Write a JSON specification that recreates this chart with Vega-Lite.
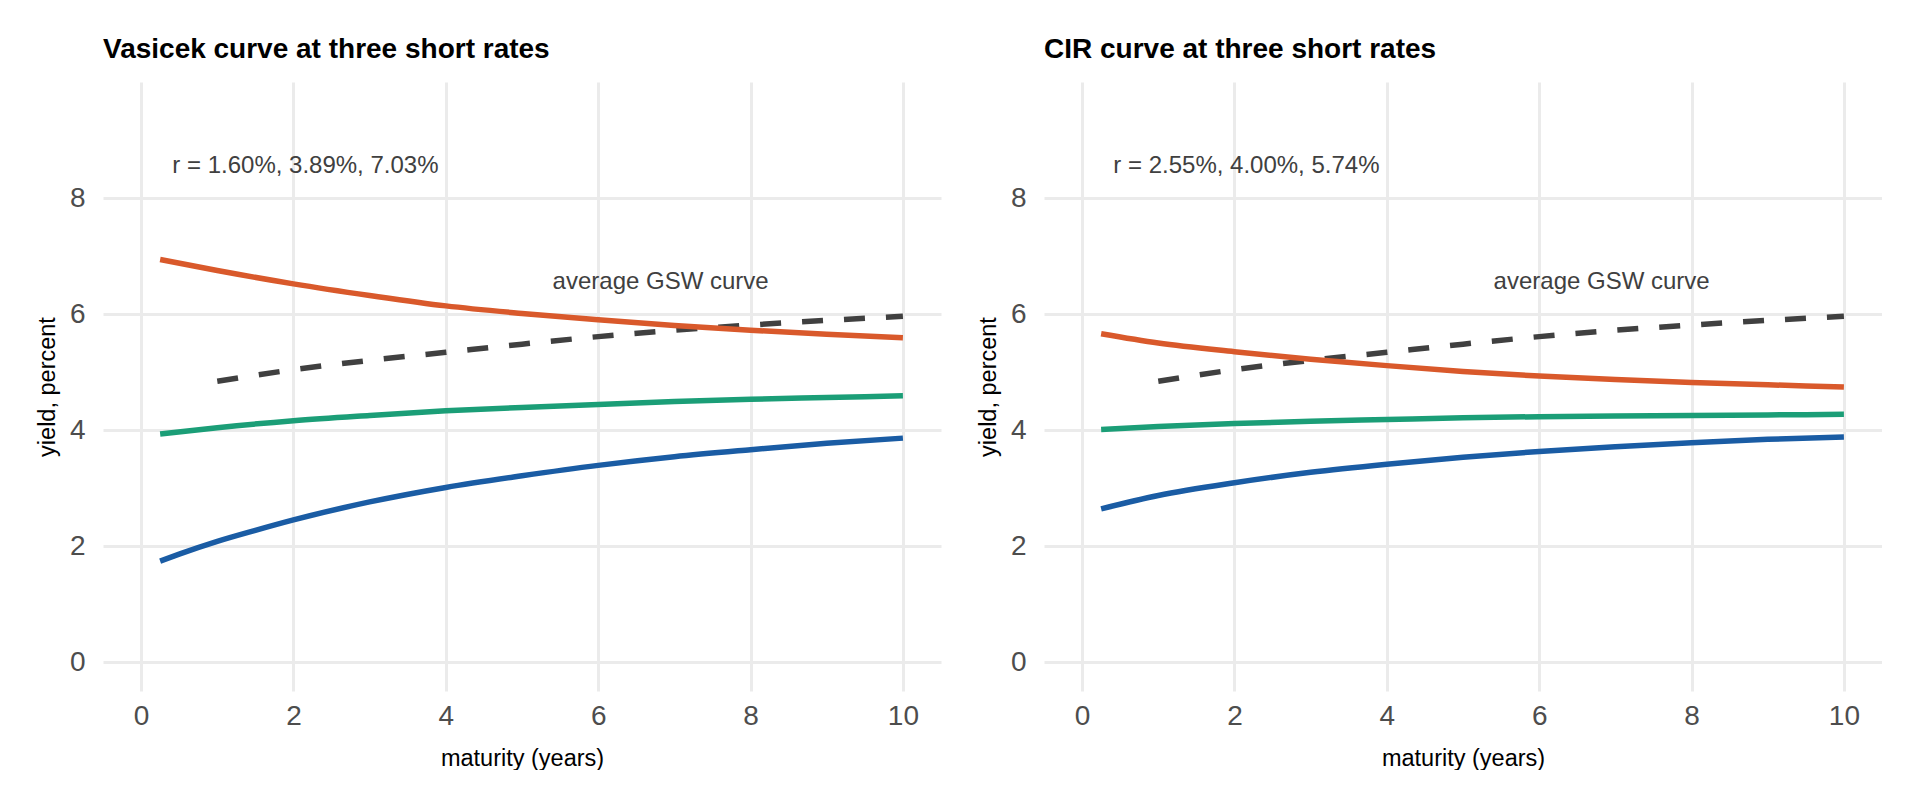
{
  "$schema": "https://vega.github.io/schema/vega-lite/v6.json",
  "background": "white",
  "autosize": {"type": "pad"},
  "padding": {"left": 35, "top": 36, "right": 0, "bottom": 0},
  "config": {
    "font": "Liberation Sans",
    "view": {"stroke": null},
    "axis": {
      "domain": false,
      "ticks": false,
      "tickSize": 0,
      "grid": true,
      "gridColor": "#EBEBEB",
      "gridWidth": 3,
      "labelFont": "Liberation Sans",
      "labelFontSize": 28,
      "labelColor": "#4D4D4D",
      "titleFont": "Liberation Sans",
      "titleFontSize": 23.5,
      "titleFontWeight": "normal",
      "titleColor": "#000000"
    },
    "axisX": {"labelPadding": 11, "titlePadding": 16},
    "axisY": {"labelPadding": 18, "titlePadding": 10},
    "title": {
      "anchor": "start",
      "frame": "group",
      "fontSize": 28,
      "fontWeight": "bold",
      "color": "#000000",
      "offset": 18
    },
    "concat": {"spacing": 35}
  },
  "datasets": {
    "vasicek": [
      {"mat": 0.25, "yld": 1.74, "r": "low"},
      {"mat": 0.5, "yld": 1.86, "r": "low"},
      {"mat": 1, "yld": 2.08, "r": "low"},
      {"mat": 1.5, "yld": 2.27, "r": "low"},
      {"mat": 2, "yld": 2.45, "r": "low"},
      {"mat": 3, "yld": 2.76, "r": "low"},
      {"mat": 4, "yld": 3.01, "r": "low"},
      {"mat": 5, "yld": 3.21, "r": "low"},
      {"mat": 6, "yld": 3.39, "r": "low"},
      {"mat": 7, "yld": 3.54, "r": "low"},
      {"mat": 8, "yld": 3.66, "r": "low"},
      {"mat": 9, "yld": 3.77, "r": "low"},
      {"mat": 10, "yld": 3.86, "r": "low"},
      {"mat": 0.25, "yld": 3.93, "r": "mid"},
      {"mat": 1, "yld": 4.04, "r": "mid"},
      {"mat": 2, "yld": 4.16, "r": "mid"},
      {"mat": 3, "yld": 4.25, "r": "mid"},
      {"mat": 4, "yld": 4.33, "r": "mid"},
      {"mat": 5, "yld": 4.39, "r": "mid"},
      {"mat": 6, "yld": 4.44, "r": "mid"},
      {"mat": 7, "yld": 4.49, "r": "mid"},
      {"mat": 8, "yld": 4.53, "r": "mid"},
      {"mat": 9, "yld": 4.56, "r": "mid"},
      {"mat": 10, "yld": 4.59, "r": "mid"},
      {"mat": 0.25, "yld": 6.94, "r": "high"},
      {"mat": 1, "yld": 6.75, "r": "high"},
      {"mat": 2, "yld": 6.52, "r": "high"},
      {"mat": 3, "yld": 6.32, "r": "high"},
      {"mat": 4, "yld": 6.14, "r": "high"},
      {"mat": 5, "yld": 6.01, "r": "high"},
      {"mat": 6, "yld": 5.9, "r": "high"},
      {"mat": 7, "yld": 5.8, "r": "high"},
      {"mat": 8, "yld": 5.72, "r": "high"},
      {"mat": 9, "yld": 5.65, "r": "high"},
      {"mat": 10, "yld": 5.59, "r": "high"}
    ],
    "cir": [
      {"mat": 0.25, "yld": 2.64, "r": "low"},
      {"mat": 1, "yld": 2.87, "r": "low"},
      {"mat": 2, "yld": 3.09, "r": "low"},
      {"mat": 3, "yld": 3.27, "r": "low"},
      {"mat": 4, "yld": 3.41, "r": "low"},
      {"mat": 5, "yld": 3.53, "r": "low"},
      {"mat": 6, "yld": 3.63, "r": "low"},
      {"mat": 7, "yld": 3.71, "r": "low"},
      {"mat": 8, "yld": 3.78, "r": "low"},
      {"mat": 9, "yld": 3.84, "r": "low"},
      {"mat": 10, "yld": 3.88, "r": "low"},
      {"mat": 0.25, "yld": 4.01, "r": "mid"},
      {"mat": 1, "yld": 4.06, "r": "mid"},
      {"mat": 2, "yld": 4.11, "r": "mid"},
      {"mat": 3, "yld": 4.15, "r": "mid"},
      {"mat": 4, "yld": 4.18, "r": "mid"},
      {"mat": 5, "yld": 4.21, "r": "mid"},
      {"mat": 6, "yld": 4.23, "r": "mid"},
      {"mat": 7, "yld": 4.24, "r": "mid"},
      {"mat": 8, "yld": 4.25, "r": "mid"},
      {"mat": 9, "yld": 4.26, "r": "mid"},
      {"mat": 10, "yld": 4.27, "r": "mid"},
      {"mat": 0.25, "yld": 5.66, "r": "high"},
      {"mat": 1, "yld": 5.5, "r": "high"},
      {"mat": 2, "yld": 5.35, "r": "high"},
      {"mat": 3, "yld": 5.22, "r": "high"},
      {"mat": 4, "yld": 5.11, "r": "high"},
      {"mat": 5, "yld": 5.01, "r": "high"},
      {"mat": 6, "yld": 4.93, "r": "high"},
      {"mat": 7, "yld": 4.87, "r": "high"},
      {"mat": 8, "yld": 4.82, "r": "high"},
      {"mat": 9, "yld": 4.78, "r": "high"},
      {"mat": 10, "yld": 4.74, "r": "high"}
    ],
    "gsw": [
      {"mat": 1, "yld": 4.84},
      {"mat": 2, "yld": 5.04},
      {"mat": 3, "yld": 5.2},
      {"mat": 4, "yld": 5.34},
      {"mat": 5, "yld": 5.48},
      {"mat": 6, "yld": 5.61},
      {"mat": 7, "yld": 5.72},
      {"mat": 8, "yld": 5.81},
      {"mat": 9, "yld": 5.89},
      {"mat": 10, "yld": 5.96}
    ]
  },
  "hconcat": [
    {
      "title": "Vasicek curve at three short rates",
      "width": 838,
      "height": 609,
      "encoding": {
        "x": {"field": "mat", "type": "quantitative", "title": "maturity (years)",
              "scale": {"domain": [-0.5, 10.5], "nice": false, "zero": false},
              "axis": {"values": [0, 2, 4, 6, 8, 10]}},
        "y": {"field": "yld", "type": "quantitative", "title": "yield, percent",
              "scale": {"domain": [-0.5, 10], "nice": false, "zero": false},
              "axis": {"values": [0, 2, 4, 6, 8]}}
      },
      "layer": [
        {
          "data": {"name": "gsw"},
          "mark": {"type": "line", "strokeWidth": 5.5, "strokeDash": [21, 21], "color": "#404040", "interpolate": "monotone"}
        },
        {
          "data": {"name": "vasicek"},
          "mark": {"type": "line", "strokeWidth": 5.5, "interpolate": "monotone"},
          "encoding": {
            "color": {"field": "r", "type": "nominal", "legend": null,
                      "scale": {"domain": ["low", "mid", "high"], "range": ["#1A5CA4", "#1B9E77", "#D9592B"]}}
          }
        },
        {
          "data": {"values": [{"mat": 0.41, "yld": 8.56, "label": "r = 1.60%, 3.89%, 7.03%"}]},
          "mark": {"type": "text", "align": "left", "baseline": "middle", "fontSize": 24, "color": "#404040"},
          "encoding": {"text": {"field": "label"}}
        },
        {
          "data": {"values": [{"mat": 6.82, "yld": 6.56, "label": "average GSW curve"}]},
          "mark": {"type": "text", "align": "center", "baseline": "middle", "fontSize": 24, "color": "#404040"},
          "encoding": {"text": {"field": "label"}}
        }
      ]
    },
    {
      "title": "CIR curve at three short rates",
      "width": 838,
      "height": 609,
      "encoding": {
        "x": {"field": "mat", "type": "quantitative", "title": "maturity (years)",
              "scale": {"domain": [-0.5, 10.5], "nice": false, "zero": false},
              "axis": {"values": [0, 2, 4, 6, 8, 10]}},
        "y": {"field": "yld", "type": "quantitative", "title": "yield, percent",
              "scale": {"domain": [-0.5, 10], "nice": false, "zero": false},
              "axis": {"values": [0, 2, 4, 6, 8]}}
      },
      "layer": [
        {
          "data": {"name": "gsw"},
          "mark": {"type": "line", "strokeWidth": 5.5, "strokeDash": [21, 21], "color": "#404040", "interpolate": "monotone"}
        },
        {
          "data": {"name": "cir"},
          "mark": {"type": "line", "strokeWidth": 5.5, "interpolate": "monotone"},
          "encoding": {
            "color": {"field": "r", "type": "nominal", "legend": null,
                      "scale": {"domain": ["low", "mid", "high"], "range": ["#1A5CA4", "#1B9E77", "#D9592B"]}}
          }
        },
        {
          "data": {"values": [{"mat": 0.41, "yld": 8.56, "label": "r = 2.55%, 4.00%, 5.74%"}]},
          "mark": {"type": "text", "align": "left", "baseline": "middle", "fontSize": 24, "color": "#404040"},
          "encoding": {"text": {"field": "label"}}
        },
        {
          "data": {"values": [{"mat": 6.82, "yld": 6.56, "label": "average GSW curve"}]},
          "mark": {"type": "text", "align": "center", "baseline": "middle", "fontSize": 24, "color": "#404040"},
          "encoding": {"text": {"field": "label"}}
        }
      ]
    }
  ]
}
